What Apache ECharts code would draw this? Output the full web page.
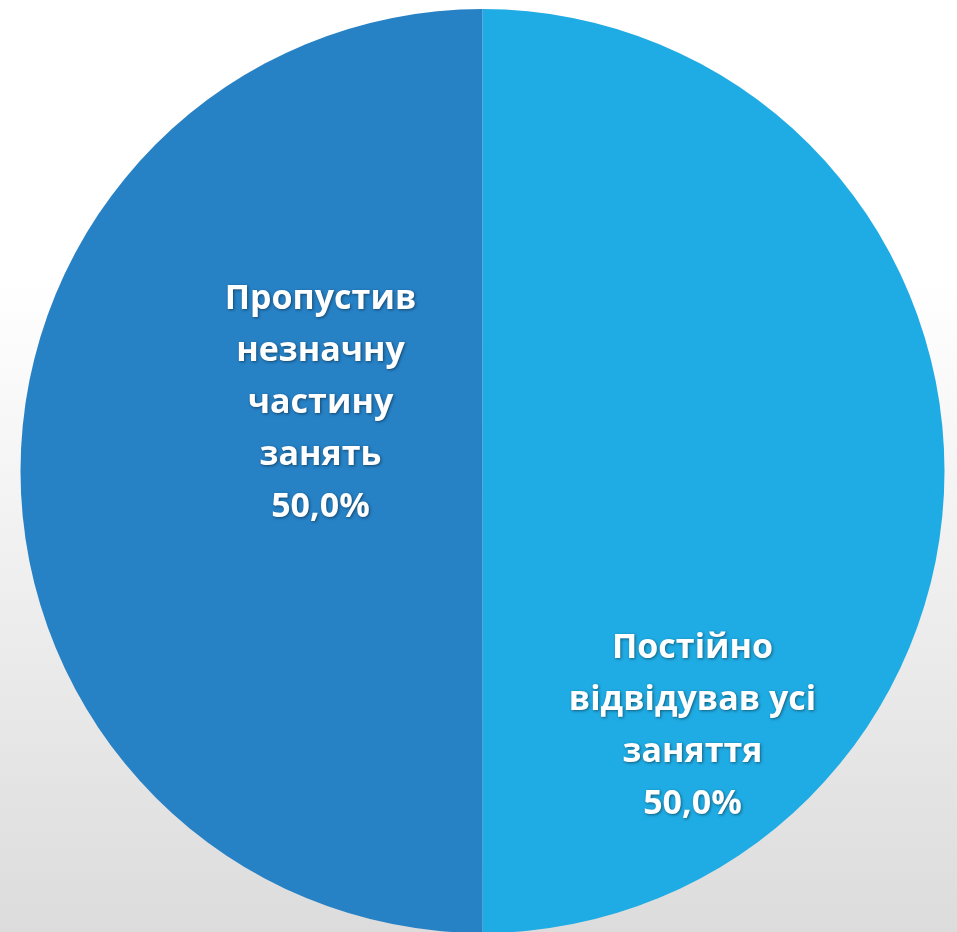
<!DOCTYPE html>
<html>
<head>
<meta charset="utf-8">
<script src="https://cdn.jsdelivr.net/npm/echarts@6/dist/echarts.min.js"></script>
<style>
html,body{margin:0;padding:0;}
#chart{width:957px;height:932px;}
</style>
</head>
<body>
<div id="chart"></div>
<script>
var categories = ['Постійно\nвідвідував усі\nзаняття', 'Пропустив\nнезначну\nчастину\nзанять'];
var values = [50, 50];
var colors = ['#1FABE3', '#2681C5'];
var labelOffsets = [[-24, 255], [72, -68]];

var chart = echarts.init(document.getElementById('chart'));
chart.setOption({
  animation: false,
  backgroundColor: {
    type: 'linear', x: 0, y: 0, x2: 0, y2: 1,
    colorStops: [
      {offset: 0, color: '#FFFFFF'},
      {offset: 0.3, color: '#FFFFFF'},
      {offset: 1, color: '#DCDCDC'}
    ]
  },
  series: [{
    type: 'pie',
    center: [482.5, 471],
    radius: [0, 462],
    startAngle: 90,
    clockwise: true,
    avoidLabelOverlap: false,
    labelLine: {show: false},
    itemStyle: {borderWidth: 0},
    emphasis: {disabled: true},
    label: {
      show: true,
      position: 'inside',
      color: '#FFFFFF',
      fontFamily: 'Open Sans',
      fontWeight: 'bold',
      fontSize: 34,
      lineHeight: 52,
      align: 'center',
      textShadowColor: 'rgba(0,0,0,0.45)',
      textShadowBlur: 3,
      textShadowOffsetX: 1,
      textShadowOffsetY: 1,
      formatter: function (p) {
        return p.name + '\n' + p.percent.toFixed(1).replace('.', ',') + '%';
      }
    },
    data: categories.map(function (c, i) {
      return {
        name: c,
        value: values[i],
        itemStyle: {color: colors[i]},
        label: {offset: labelOffsets[i]}
      };
    })
  }]
});
</script>
</body>
</html>
